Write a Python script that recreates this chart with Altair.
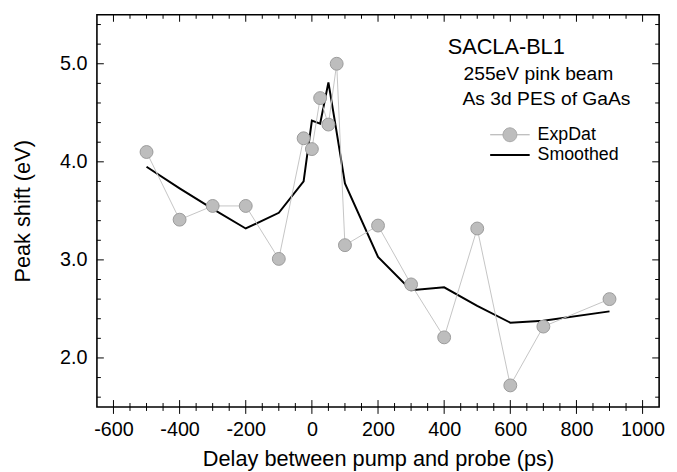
import altair as alt
import pandas as pd

FONT = "Liberation Sans"

# ---- data ----
delay = [-500, -400, -300, -200, -100, -25, 0, 25, 50, 75, 100, 200, 300, 400, 500, 600, 700, 900]
exp_shift = [4.10, 3.41, 3.55, 3.55, 3.01, 4.24, 4.13, 4.65, 4.38, 5.00, 3.15, 3.35, 2.75, 2.21, 3.32, 1.72, 2.32, 2.60]
smooth_shift = [3.95, 3.73, 3.52, 3.32, 3.48, 3.80, 4.42, 4.39, 4.81, 4.30, 3.78, 3.03, 2.69, 2.72, 2.53, 2.36, 2.38, 2.475]
series_names = ["ExpDat", "Smoothed"]
annot_lines = ["SACLA-BL1", "255eV pink beam", "As 3d PES of GaAs"]

x_major = list(range(-600, 1001, 200))
x_minor = [v for v in range(-600, 1001, 50) if v % 200 != 0]
y_major = [2.0, 3.0, 4.0, 5.0]
y_minor = [v for v in [round(1.6 + 0.2 * i, 1) for i in range(20)] if v not in y_major]

W, H = 569, 397
MAJ, MIN = 7, 4

exp_df = pd.DataFrame({"delay": delay, "shift": exp_shift})
sm_df = pd.DataFrame({"delay": delay, "shift": smooth_shift})
leg_df = pd.DataFrame({"series": series_names})
xmaj_df = pd.DataFrame({"v": x_major})
xmin_df = pd.DataFrame({"v": x_minor})
ymaj_df = pd.DataFrame({"v": y_major})
ymin_df = pd.DataFrame({"v": y_minor})

xs = alt.Scale(domain=[-650, 1050], nice=False, zero=False)
ys = alt.Scale(domain=[1.5, 5.5], nice=False, zero=False)

ax_labels = alt.Axis(orient="bottom", values=x_major, ticks=False, tickSize=0,
                     domain=False, grid=False, labelOverlap=False, labelFlush=False,
                     labelExpr="'' + datum.value",
                     labelFont=FONT, labelFontSize=20, labelColor="black", labelPadding=13,
                     title="Delay between pump and probe (ps)", titleFont=FONT, titleFontSize=22,
                     titleFontWeight="normal", titleColor="black", titlePadding=9)
ay_labels = alt.Axis(orient="left", values=y_major, format=".1f", ticks=False, tickSize=0,
                     domain=False, grid=False, labelFont=FONT, labelFontSize=20, labelColor="black",
                     labelPadding=10, title="Peak shift (eV)", titleFont=FONT, titleFontSize=22,
                     titleFontWeight="normal", titleColor="black", titlePadding=25)

smooth = alt.Chart(sm_df).mark_line(color="black", strokeWidth=2).encode(
    x=alt.X("delay:Q", scale=xs, axis=ax_labels),
    y=alt.Y("shift:Q", scale=ys, axis=ay_labels),
)
exp_line = alt.Chart(exp_df).mark_line(color="#c4c4c4", strokeWidth=1).encode(
    x=alt.X("delay:Q", scale=xs),
    y=alt.Y("shift:Q", scale=ys),
)
exp_pts = alt.Chart(exp_df).mark_point(filled=True, fill="#bdbdbd", stroke="#9a9a9a",
                                       strokeWidth=1, size=170, opacity=1).encode(
    x=alt.X("delay:Q", scale=xs),
    y=alt.Y("shift:Q", scale=ys),
)


# bottom: rules crossing the frame
def xrules(df, y1, y2):
    return alt.Chart(df).mark_rule(color="black", strokeWidth=1).encode(
        x=alt.X("v:Q", scale=xs), y=alt.value(y1), y2=alt.value(y2))


# top: tick marks pointing down
def xticks(df, center, size):
    return alt.Chart(df).mark_tick(orient="vertical", color="black", thickness=1, size=size, opacity=1).encode(
        x=alt.X("v:Q", scale=xs), y=alt.value(center))


# left: short horizontal strokes drawn as custom point shapes
def yshapes(df, length, side):
    path = "M0,0L2,0" if side == "left" else "M0,0L-2,0"
    return alt.Chart(df).mark_point(shape=path, size=length * length, stroke="black", strokeWidth=1,
                                    opacity=1, filled=False).encode(
        y=alt.Y("v:Q", scale=ys), x=alt.value(0 if side == "left" else W))


# right: rules
def yrules(df, x1, x2):
    return alt.Chart(df).mark_rule(color="black", strokeWidth=1).encode(
        y=alt.Y("v:Q", scale=ys), x=alt.value(x1), x2=alt.value(x2))


tick_layers = [
    xrules(xmaj_df, H - MAJ, H + MAJ), xrules(xmin_df, H - MIN, H + MIN),
    xticks(xmaj_df, MAJ / 2, MAJ), xticks(xmin_df, MIN / 2, MIN),
    yshapes(ymaj_df, MAJ, "left"), yshapes(ymin_df, MIN, "left"),
    yrules(ymaj_df, W - MAJ, W), yrules(ymin_df, W - MIN, W),
]

exp_symbol = "M-2,0L-0.7,0M0.7,0L2,0M0.7,0A0.7,0.7,0,1,1,-0.7,0A0.7,0.7,0,1,1,0.7,0Z"
sm_symbol = "M-2,0L2,0"
leg = alt.Legend(orient="none", legendX=407, legendY=111, title=None, labelFont=FONT,
                 labelFontSize=18, labelColor="black", symbolSize=400, labelOffset=17,
                 padding=0, rowPadding=0)
legend_layer = alt.Chart(leg_df).transform_filter("false").mark_point(opacity=1).encode(
    shape=alt.Shape("series:N", scale=alt.Scale(domain=series_names, range=[exp_symbol, sm_symbol]), legend=leg),
    fill=alt.Fill("series:N", scale=alt.Scale(domain=series_names, range=["#bdbdbd", "transparent"]), legend=leg),
    stroke=alt.Stroke("series:N", scale=alt.Scale(domain=series_names, range=["#a8a8a8", "#000000"]), legend=leg),
    strokeWidth=alt.StrokeWidth("series:N", scale=alt.Scale(domain=series_names, range=[1, 2]), legend=leg),
)


def annot(text, x, y, size):
    return alt.Chart(pd.DataFrame({"t": [text]})).mark_text(
        font=FONT, fontSize=size, align="left", baseline="alphabetic", color="black"
    ).encode(x=alt.value(x), y=alt.value(y), text="t:N")


a1 = annot(annot_lines[0], 355, 40, 22)
a2 = annot(annot_lines[1], 371, 66, 19.5)
a3 = annot(annot_lines[2], 370, 91, 19.5)

chart = alt.layer(smooth, exp_line, exp_pts, *tick_layers, legend_layer, a1, a2, a3).properties(
    width=W, height=H,
    padding={"left": 90, "top": 4, "right": 10, "bottom": 63},
    autosize=alt.AutoSizeParams(type="none"),
).configure_view(stroke="black", strokeWidth=1.6)

chart.save("out.html", embed_options={"renderer": "svg", "actions": False})
